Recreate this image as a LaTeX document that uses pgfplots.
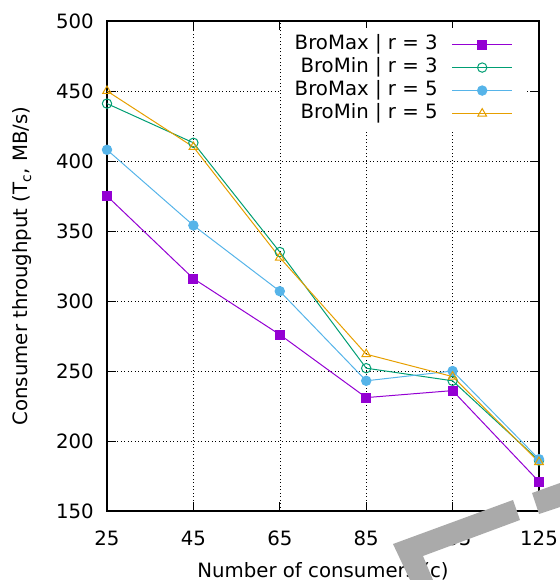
\documentclass[border=0pt]{standalone}
\usepackage{fontspec}
\setmainfont{DejaVu Sans}
\usepackage{pgfplots}
\pgfplotsset{compat=1.18}
\definecolor{cmax3}{HTML}{9400D3}
\definecolor{cmin3}{HTML}{009E73}
\definecolor{cmax5}{HTML}{56B4E9}
\definecolor{cmin5}{HTML}{E69F00}
\definecolor{blot}{HTML}{AAAAAA}
\newcommand{\chartfont}{\fontsize{19.8}{23}\selectfont}

\begin{document}
\begin{tikzpicture}
\begin{axis}[
    scale only axis,
    width=432bp, height=490bp,
    xmin=25, xmax=125, ymin=150, ymax=500,
    xtick={25,45,65,85,105,125},
    ytick={150,200,250,300,350,400,450,500},
    /pgf/number format/assume math mode=true,
    font=\chartfont,
    tick label style={font=\chartfont},
    yticklabel style={anchor=east, inner sep=0pt, xshift=-13bp},
    xticklabel style={anchor=north, inner sep=0pt, yshift=-20bp},
    tick align=inside,
    major tick length=9bp,
    tick style={black, line width=0.8bp},
    axis line style={black, line width=1.2bp},
    grid=major,
    major grid style={black, line width=0.6bp, dash pattern=on 1bp off 2.5bp},
    xlabel={Number of consumers (c)},
    ylabel={Consumer throughput (T\textsubscript{c}, MB/s)},
    xlabel style={at={(axis description cs:0.5,0)}, anchor=base, yshift=-66bp},
    ylabel style={at={(axis description cs:0,0.5)}, anchor=base, yshift=79bp},
    legend plot pos=right,
    legend image code/.code={%
        \draw[mark repeat=2, mark phase=2] plot coordinates {(0bp,0bp)(30bp,0bp)(60bp,0bp)};},
    legend style={at={(rel axis cs:0.972,0.986)}, anchor=north east,
        fill=white, draw=none, font=\chartfont,
        inner xsep=14bp, inner ysep=7bp,
        nodes={inner sep=0pt, text height=14bp, text depth=5bp},
        row sep=4bp, column sep=14bp,
        cells={anchor=east}},
]
% BroMax, r = 3
\addplot[cmax3, line width=1bp, mark=square*, mark size=4.5bp, mark options={fill=cmax3}]
  coordinates {(25,375)(45,316)(65,276)(85,231)(105,236)(125,171)};
\addlegendentry{BroMax | r = 3}
% BroMin, r = 3
\addplot[cmin3, line width=1bp, mark=o, mark size=4.7bp]
  coordinates {(25,441)(45,413)(65,335)(85,252)(105,243)(125,186)};
\addlegendentry{BroMin | r = 3}
% BroMax, r = 5
\addplot[cmax5, line width=1bp, mark=*, mark size=4.7bp, mark options={fill=cmax5}]
  coordinates {(25,408)(45,354)(65,307)(85,243)(105,250)(125,187)};
\addlegendentry{BroMax | r = 5}
% BroMin, r = 5
\addplot[cmin5, line width=1bp, mark=triangle, mark size=5bp]
  coordinates {(25,450)(45,410)(65,331)(85,262)(105,246)(125,185)};
\addlegendentry{BroMin | r = 5}
\end{axis}
% grey blot over the lower right corner
\begin{pgfinterruptboundingbox}
\fill[blot] (286bp,-33bp) -- (406bp,11bp) -- (413bp,-9bp) -- (316bp,-45bp)
  -- (326bp,-69bp) -- (303bp,-69bp) -- cycle;
\fill[blot] (425bp,18bp) -- (453bp,28bp) -- (453bp,4bp) -- (432bp,-3bp) -- cycle;
\end{pgfinterruptboundingbox}
\pgfresetboundingbox
\path[use as bounding box] (-107bp,-69bp) rectangle (453bp,511bp);
\end{tikzpicture}
\end{document}
